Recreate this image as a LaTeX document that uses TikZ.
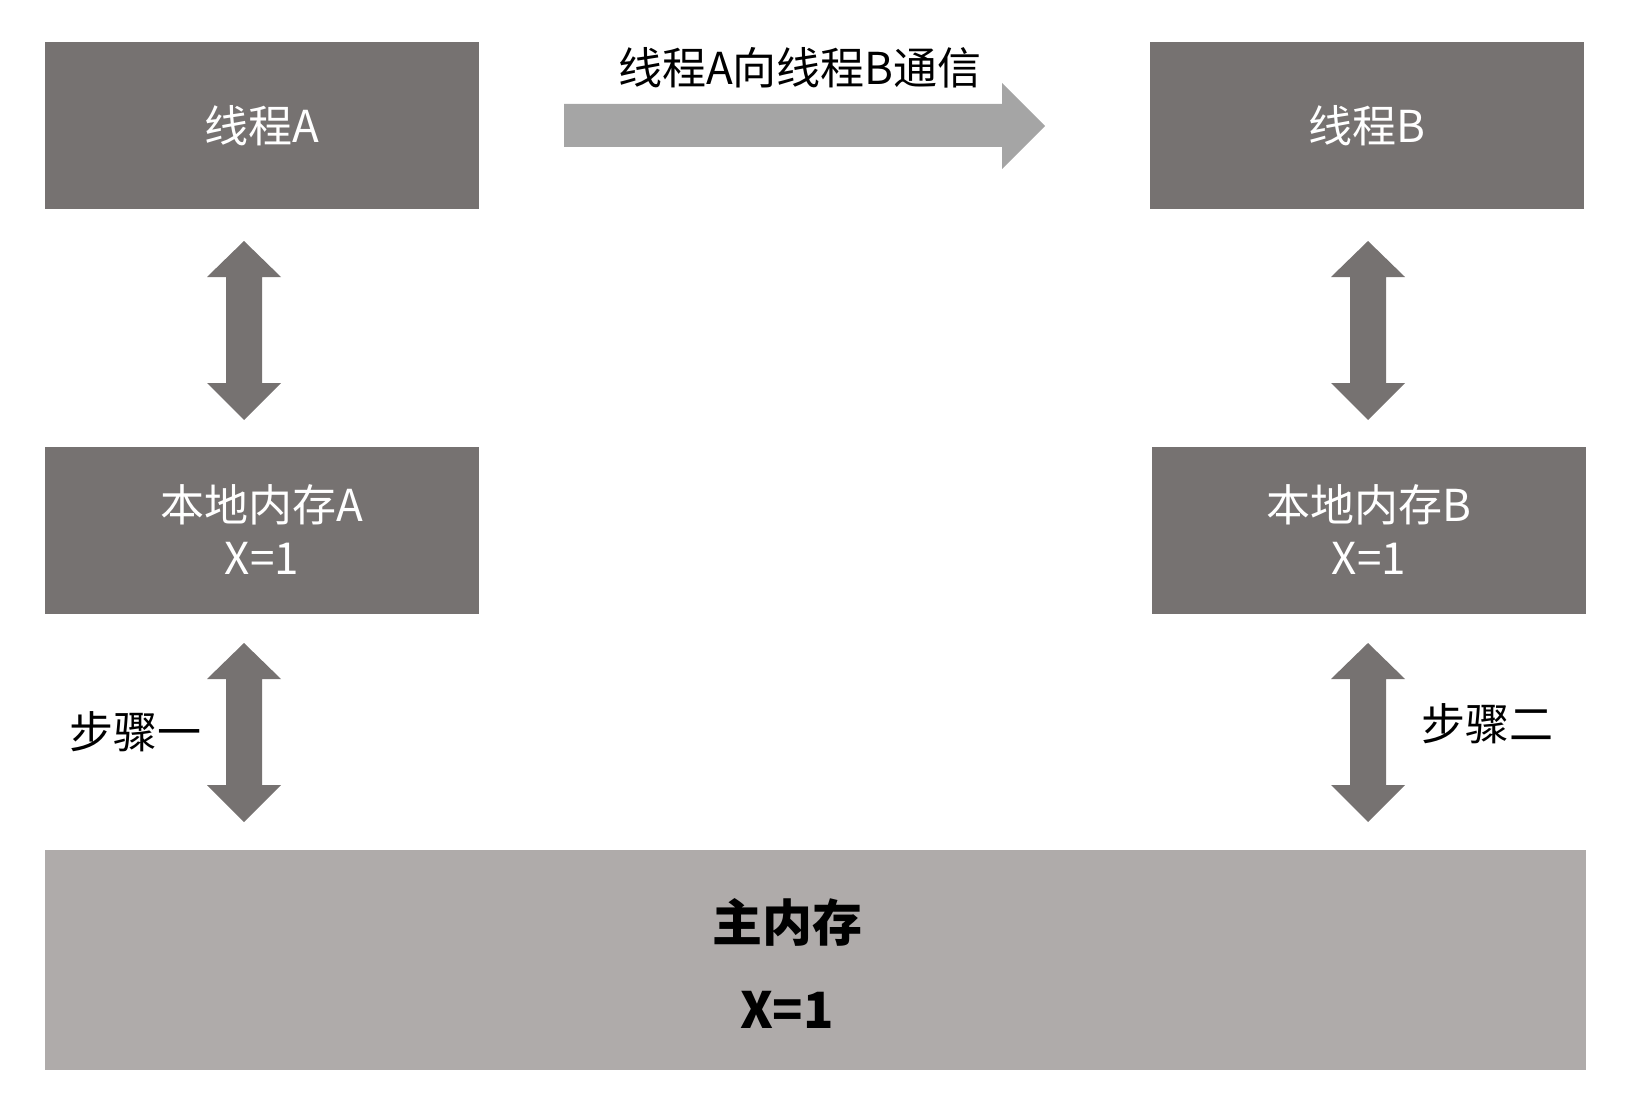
\documentclass[tikz,border=0pt]{standalone}
\usepackage{fontspec}
\setmainfont{Noto Sans CJK SC}
\definecolor{boxgray}{HTML}{767271}
\definecolor{maingray}{HTML}{AFABAA}
\definecolor{arrowgray}{HTML}{A5A5A5}
\tikzset{
  box/.style={rectangle, fill=boxgray, inner sep=0pt, minimum width=434pt, minimum height=167pt,
    text=white, align=center, font=\fontsize{44}{53}\selectfont},
  mainbox/.style={rectangle, fill=maingray, inner sep=0pt, minimum width=1541pt, minimum height=220pt},
  maintext/.style={inner sep=0pt, text=black, align=center, font=\fontsize{50}{87}\selectfont\bfseries},
  lbl/.style={inner sep=0pt, text=black, font=\fontsize{44}{48}\selectfont},
  darrow/.style={fill=boxgray},
}
\newcommand\vdarrow[3]{% cx, top, bottom
  \fill[darrow] (#1,#2) -- (#1+37,#2+36) -- (#1+18,#2+36) -- (#1+18,#3-37) -- (#1+37,#3-37)
    -- (#1,#3) -- (#1-37,#3-37) -- (#1-18,#3-37) -- (#1-18,#2+36) -- (#1-37,#2+36) -- cycle;}
\begin{document}
\begin{tikzpicture}[x=1pt,y=-1pt]
\useasboundingbox (0,0) rectangle (1632,1118);
\node[box] (ta) at (262,125.5) {线程A};
\node[box] (tb) at (1367,125.5) {线程B};
\node[box] (la) at (262,530) {本地内存A\\X=1};
\node[box] (lb) at (1369,530) {本地内存B\\X=1};
\node[mainbox] (mm) at (815.5,960) {};
\node[maintext] (mmt) at (787,963) {主内存\\X=1};
% horizontal arrow
\fill[arrowgray] (564,104) -- (1002,104) -- (1002,83) -- (1045,126) -- (1002,169) -- (1002,147) -- (564,147) -- cycle;
\node[lbl] (msg) at (800,68) {线程A向线程B通信};
% vertical arrows
\vdarrow{244}{241}{420}
\vdarrow{244}{643}{822}
\vdarrow{1368}{241}{420}
\vdarrow{1368}{643}{822}
\node[lbl] (s1) at (135,732) {步骤一};
\node[lbl] (s2) at (1487,724) {步骤二};
\end{tikzpicture}
\end{document}
